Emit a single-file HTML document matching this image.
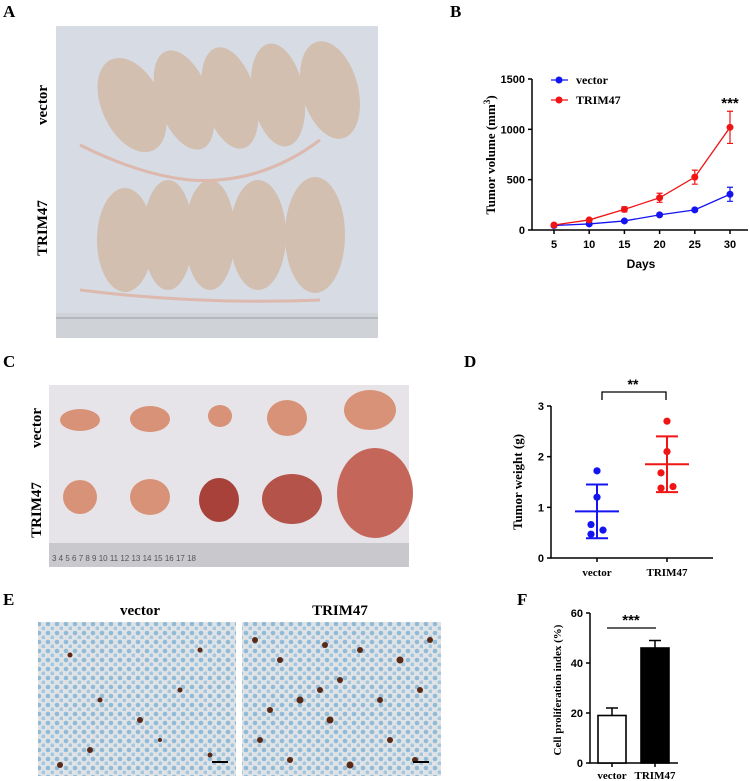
<!DOCTYPE html>
<html><head><meta charset="utf-8">
<style>
body{margin:0;width:750px;height:781px;background:#fff;overflow:hidden;position:relative;font-family:"Liberation Serif",serif}
.lbl{position:absolute;font-weight:bold;font-size:17px;font-family:"Liberation Serif",serif}
svg{position:absolute;left:0;top:0}
</style></head><body>
<svg width="750" height="781">
<defs>
<pattern id="cells" width="9" height="9" patternUnits="userSpaceOnUse"><rect width="9" height="9" fill="#dfe3e6"/><circle cx="3" cy="3" r="2.3" fill="#8fbbd8"/><circle cx="7.5" cy="7.5" r="2.1" fill="#a4c6de"/></pattern>
</defs>
<g>
<rect x="56" y="26" width="322" height="312" fill="#d6dbe4"/>
<g fill="#d3bfb0">
<ellipse cx="132" cy="105" rx="30" ry="50" transform="rotate(-25 132 105)"/>
<ellipse cx="184" cy="100" rx="26" ry="52" transform="rotate(-20 184 100)"/>
<ellipse cx="230" cy="98" rx="26" ry="52" transform="rotate(-15 230 98)"/>
<ellipse cx="278" cy="95" rx="26" ry="52" transform="rotate(-10 278 95)"/>
<ellipse cx="330" cy="90" rx="28" ry="50" transform="rotate(-15 330 90)"/>
<ellipse cx="125" cy="240" rx="28" ry="52"/>
<ellipse cx="168" cy="235" rx="25" ry="55"/>
<ellipse cx="210" cy="235" rx="25" ry="55"/>
<ellipse cx="258" cy="235" rx="28" ry="55"/>
<ellipse cx="315" cy="235" rx="30" ry="58"/>
</g>
<g stroke="#dcb8ad" stroke-width="3" fill="none"><path d="M80 145 Q140 175 190 180 Q260 185 320 140"/><path d="M80 290 Q200 305 320 300"/></g>
<rect x="56" y="313" width="322" height="25" fill="#cfd3d8"/>
<g stroke="#666" stroke-width="0.6"><line x1="56" y1="318" x2="378" y2="318"/></g>
</g>
<g>
<rect x="49" y="385" width="360" height="182" fill="#e6e4e8"/>
<g fill="#d89277">
<ellipse cx="80" cy="420" rx="20" ry="11"/><ellipse cx="150" cy="419" rx="20" ry="13"/><ellipse cx="220" cy="416" rx="12" ry="11"/><ellipse cx="287" cy="418" rx="20" ry="18"/><ellipse cx="370" cy="410" rx="26" ry="20"/>
<ellipse cx="80" cy="497" rx="17" ry="17"/><ellipse cx="150" cy="497" rx="20" ry="18"/><ellipse cx="219" cy="500" rx="20" ry="22" fill="#a9413b"/><ellipse cx="292" cy="499" rx="30" ry="25" fill="#b4534a"/><ellipse cx="375" cy="493" rx="38" ry="45" fill="#c4675a"/>
</g>
<rect x="49" y="543" width="360" height="24" fill="#c9c8cc"/>
<g font-family="Liberation Sans" font-size="8" fill="#555"><text x="52" y="561">3  4   5   6   7   8   9  10  11  12  13  14  15  16  17  18</text></g>
</g>
<g>
<rect x="38" y="622" width="198" height="154" fill="url(#cells)"/>
<rect x="242" y="622" width="199" height="154" fill="url(#cells)"/>
<g fill="#5a2a18">
<circle cx="70" cy="655" r="2.5"/><circle cx="100" cy="700" r="2.5"/><circle cx="140" cy="720" r="3"/><circle cx="180" cy="690" r="2.5"/><circle cx="200" cy="650" r="2.5"/><circle cx="90" cy="750" r="3"/><circle cx="60" cy="765" r="3"/><circle cx="210" cy="755" r="2.5"/><circle cx="160" cy="740" r="2"/>
<circle cx="255" cy="640" r="3"/><circle cx="280" cy="660" r="3"/><circle cx="300" cy="700" r="3.5"/><circle cx="320" cy="690" r="3"/><circle cx="340" cy="680" r="3"/><circle cx="360" cy="650" r="3"/><circle cx="380" cy="700" r="3"/><circle cx="400" cy="660" r="3.5"/><circle cx="420" cy="690" r="3"/><circle cx="430" cy="640" r="3"/><circle cx="260" cy="740" r="3"/><circle cx="290" cy="760" r="3"/><circle cx="330" cy="720" r="3.5"/><circle cx="350" cy="765" r="3.5"/><circle cx="390" cy="740" r="3"/><circle cx="415" cy="760" r="3"/><circle cx="270" cy="710" r="3"/><circle cx="325" cy="645" r="3"/>
</g>
<g stroke="#000" stroke-width="2"><line x1="212" y1="762" x2="228" y2="762"/><line x1="413" y1="762" x2="429" y2="762"/></g>
</g>
<g font-family="Liberation Serif" font-weight="bold" font-size="15" fill="#000">
<text transform="translate(47 105) rotate(-90)" text-anchor="middle">vector</text>
<text transform="translate(47 228) rotate(-90)" text-anchor="middle">TRIM47</text>
<text transform="translate(41 428) rotate(-90)" text-anchor="middle">vector</text>
<text transform="translate(41 510) rotate(-90)" text-anchor="middle">TRIM47</text>
<text x="140" y="615" text-anchor="middle">vector</text>
<text x="340" y="615" text-anchor="middle">TRIM47</text>
</g>
<g id="chartB"></g>
<g id="chartD"></g>
<g id="chartF"></g>
</svg>
<div class="lbl" style="left:3px;top:2px">A</div>
<div class="lbl" style="left:450px;top:2px">B</div>
<div class="lbl" style="left:3px;top:352px">C</div>
<div class="lbl" style="left:464px;top:352px">D</div>
<div class="lbl" style="left:3px;top:590px">E</div>
<div class="lbl" style="left:517px;top:590px">F</div>
<script>
const NS="http://www.w3.org/2000/svg";
const daysB=[5,10,15,20,25,30];
const vectorVol=[45,60,90,150,200,355];
const vectorErr=[8,10,12,15,15,70];
const trimVol=[50,100,205,320,525,1020];
const trimErr=[8,12,25,45,70,160];
const yTicksB=[0,500,1000,1500];
const weightVector=[1.72,1.2,0.66,0.47,0.55];
const weightTrim=[2.7,2.1,1.68,1.38,1.41];
const meanD=[0.92,1.85];
const sdD=[0.53,0.55];
const catsD=["vector","TRIM47"];
const yTicksD=[0,1,2,3];
const catsF=["vector","TRIM47"];
const valsF=[19,46];
const errF=[3,3];
const yTicksF=[0,20,40,60];
function el(p,t,a,txt){const e=document.createElementNS(NS,t);for(const k in a)e.setAttribute(k,a[k]);if(txt!==undefined)e.textContent=txt;p.appendChild(e);return e;}
// B
(function(){
const g=document.getElementById('chartB');
const x=d=>554+(d-5)/25*176, y=v=>230-v/1500*151;
el(g,'line',{x1:532,y1:y(1500),x2:532,y2:230,stroke:'#000','stroke-width':1.5});
el(g,'line',{x1:532,y1:230,x2:748,y2:230,stroke:'#000','stroke-width':1.5});
yTicksB.forEach(t=>{el(g,'line',{x1:528,y1:y(t),x2:532,y2:y(t),stroke:'#000','stroke-width':1.5});
const tx=el(g,'text',{x:525,y:y(t)+4,'text-anchor':'end','font-family':'Liberation Sans','font-weight':'bold','font-size':11},t);});
daysB.forEach(d=>{el(g,'line',{x1:x(d),y1:230,x2:x(d),y2:234,stroke:'#000','stroke-width':1.5});
const tx=el(g,'text',{x:x(d),y:248,'text-anchor':'middle','font-family':'Liberation Sans','font-weight':'bold','font-size':11},d);});
const xt=el(g,'text',{x:641,y:268,'text-anchor':'middle','font-family':'Liberation Sans','font-weight':'bold','font-size':12},'Days');

const yt=el(g,'text',{transform:'translate(495 155) rotate(-90)','text-anchor':'middle','font-family':'Liberation Serif','font-weight':'bold','font-size':13});

yt.innerHTML='Tumor volume (mm<tspan dy="-5" font-size="9">3</tspan><tspan dy="5">)</tspan>';
[[vectorVol,vectorErr,'#1414f0'],[trimVol,trimErr,'#f01414']].forEach(([v,e,c],si)=>{
el(g,'polyline',{points:daysB.map((d,i)=>x(d)+','+y(v[i])).join(' '),fill:'none',stroke:c,'stroke-width':1.3});
daysB.forEach((d,i)=>{el(g,'path',{d:`M${x(d)} ${y(v[i]-e[i])}V${y(v[i]+e[i])}M${x(d)-3} ${y(v[i]-e[i])}h6M${x(d)-3} ${y(v[i]+e[i])}h6`,stroke:c,'stroke-width':1.2,fill:'none'});
const p=el(g,'circle',{cx:x(d),cy:y(v[i]),r:3.5,fill:c});});
});
[['vector','#1414f0',80],['TRIM47','#f01414',100]].forEach(([n,c,yy])=>{
const lg=el(g,'g',{});
el(lg,'line',{x1:551,y1:yy,x2:568,y2:yy,stroke:c,'stroke-width':1.3});el(lg,'circle',{cx:559,cy:yy,r:3.5,fill:c});
el(lg,'text',{x:576,y:yy+4,'font-family':'Liberation Serif','font-weight':'bold','font-size':12},n);});
el(g,'text',{x:730,y:108,'text-anchor':'middle','font-family':'Liberation Sans','font-weight':'bold','font-size':15},'***');
})();
// D
(function(){
const g=document.getElementById('chartD');
const y=v=>558-v/3*152, xs=[597,667];
el(g,'path',{d:'M551 406V558H713',stroke:'#000','stroke-width':1.5,fill:'none'});
yTicksD.forEach(t=>{el(g,'line',{x1:547,y1:y(t),x2:551,y2:y(t),stroke:'#000','stroke-width':1.5});
el(g,'text',{x:544,y:y(t)+4,'text-anchor':'end','font-family':'Liberation Sans','font-weight':'bold','font-size':11},t);});
catsD.forEach((c,i)=>{el(g,'line',{x1:xs[i],y1:558,x2:xs[i],y2:562,stroke:'#000','stroke-width':1.5});
el(g,'text',{x:xs[i],y:576,'text-anchor':'middle','font-family':'Liberation Serif','font-weight':'bold','font-size':11},c);});
const yt=el(g,'text',{transform:'translate(522 482) rotate(-90)','text-anchor':'middle','font-family':'Liberation Serif','font-weight':'bold','font-size':13},'Tumor weight (g)');

const offs=[0,0,-6,-6,6];
[[weightVector,'#1414f0'],[weightTrim,'#f01414']].forEach(([w,c],i)=>{
const cx=xs[i];
el(g,'line',{x1:cx-22,y1:y(meanD[i]),x2:cx+22,y2:y(meanD[i]),stroke:c,'stroke-width':2});
el(g,'path',{d:`M${cx} ${y(meanD[i]-sdD[i])}V${y(meanD[i]+sdD[i])}M${cx-11} ${y(meanD[i]-sdD[i])}h22M${cx-11} ${y(meanD[i]+sdD[i])}h22`,stroke:c,'stroke-width':2,fill:'none'});
w.forEach((v,j)=>{const p=el(g,'circle',{cx:cx+offs[j],cy:y(v),r:3.6,fill:c});});
});
el(g,'path',{d:'M602 400V392H666V400',stroke:'#000','stroke-width':1.3,fill:'none'});
el(g,'text',{x:633,y:389,'text-anchor':'middle','font-family':'Liberation Sans','font-weight':'bold','font-size':14},'**');
})();
// F
(function(){
const g=document.getElementById('chartF');
const y=v=>763-v/60*150, xs=[612,655];
el(g,'path',{d:'M590 613V763H678',stroke:'#000','stroke-width':1.5,fill:'none'});
yTicksF.forEach(t=>{el(g,'line',{x1:586,y1:y(t),x2:590,y2:y(t),stroke:'#000','stroke-width':1.5});
el(g,'text',{x:583,y:y(t)+4,'text-anchor':'end','font-family':'Liberation Sans','font-weight':'bold','font-size':11},t);});
catsF.forEach((c,i)=>{const cx=xs[i];
el(g,'path',{d:`M${cx} ${y(valsF[i])}V${y(valsF[i]+errF[i])}M${cx-6} ${y(valsF[i]+errF[i])}h12`,stroke:'#000','stroke-width':1.5,fill:'none'});
const b=el(g,'rect',{x:cx-14,y:y(valsF[i]),width:28,height:763-y(valsF[i]),fill:i?'#000':'#fff',stroke:'#000','stroke-width':1.6});

el(g,'line',{x1:cx,y1:763,x2:cx,y2:767,stroke:'#000','stroke-width':1.5});
el(g,'text',{x:cx,y:779,'text-anchor':'middle','font-family':'Liberation Serif','font-weight':'bold','font-size':11},c);});
const yt=el(g,'text',{transform:'translate(561 690) rotate(-90)','text-anchor':'middle','font-family':'Liberation Serif','font-weight':'bold','font-size':11},'Cell proliferation index (%)');

el(g,'line',{x1:607,y1:628,x2:656,y2:628,stroke:'#000','stroke-width':1.3});
el(g,'text',{x:631,y:625,'text-anchor':'middle','font-family':'Liberation Sans','font-weight':'bold','font-size':15},'***');
})();
</script>
</body></html>
